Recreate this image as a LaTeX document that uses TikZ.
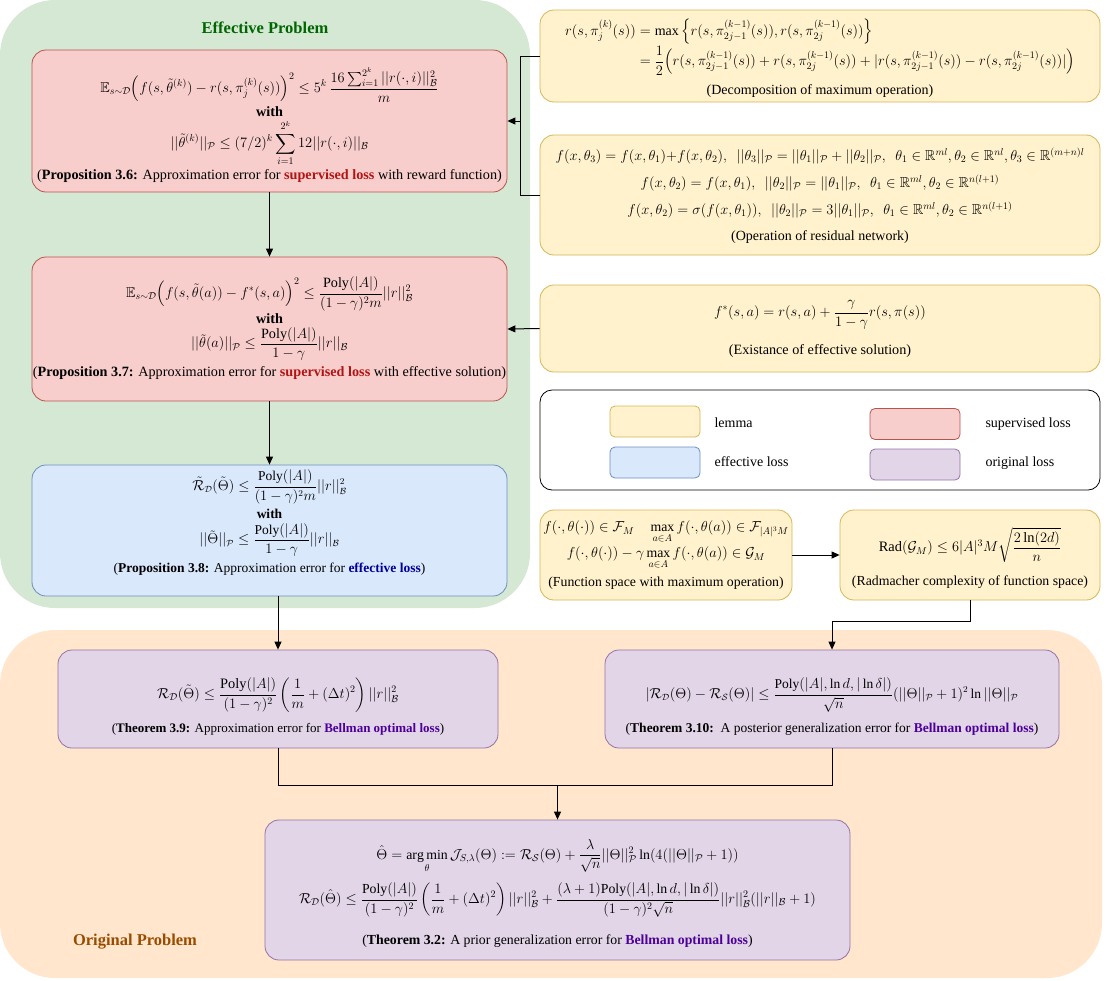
\documentclass[tikz,border=0pt]{standalone}
\usepackage{amsmath,amssymb}
\usepackage{fontspec}
\setmainfont{Liberation Serif}
\usetikzlibrary{arrows.meta}
\definecolor{greenbg}{HTML}{D5E8D4}
\definecolor{orangebg}{HTML}{FFE6CC}
\definecolor{lemfill}{HTML}{FFF2CC}
\definecolor{lemdraw}{HTML}{D6B656}
\definecolor{supfill}{HTML}{F8CECC}
\definecolor{supdraw}{HTML}{B85450}
\definecolor{efffill}{HTML}{DAE8FC}
\definecolor{effdraw}{HTML}{6C8EBF}
\definecolor{orifill}{HTML}{E1D5E7}
\definecolor{oridraw}{HTML}{9673A6}
\definecolor{titgreen}{RGB}{0,102,0}
\definecolor{titbrown}{RGB}{153,76,0}
\definecolor{supred}{RGB}{178,20,20}
\definecolor{effblue}{RGB}{0,0,153}
\definecolor{bellpur}{RGB}{76,0,153}
\newcommand{\Pn}{\mathcal{P}}
\newcommand{\Bn}{\mathcal{B}}
\newcommand{\Dn}{\mathcal{D}}
\newcommand{\Poly}{\mathrm{Poly}}
\newcommand{\suploss}{\textbf{\textcolor{supred}{supervised loss}}}
\newcommand{\bellloss}{\textbf{\textcolor{bellpur}{Bellman optimal loss}}}
\newcommand{\fs}[1]{\fontsize{#1}{#1}\selectfont}
\tikzset{
  basebox/.style={draw, line width=0.8pt, rounded corners=14pt, inner sep=0pt},
  lemmabox/.style={basebox, fill=lemfill, draw=lemdraw},
  supbox/.style={basebox, fill=supfill, draw=supdraw},
  effbox/.style={basebox, fill=efffill, draw=effdraw},
  oribox/.style={basebox, fill=orifill, draw=oridraw},
  ln/.style={inner sep=0pt, align=center, font=\fs{14.2}},
  captxt/.style={ln, font=\fs{14}},
  swatch/.style={draw, line width=0.8pt, rounded corners=5pt, minimum width=90pt, minimum height=31pt},
  legtext/.style={anchor=west, font=\fs{14}},
  conn/.style={line width=1pt, black},
  arr/.style={conn, -{Triangle[length=8pt,width=7pt]}},
  regtitle/.style={font=\fs{16.5}\bfseries}
}
\begin{document}
\begin{tikzpicture}[x=1pt,y=-1pt]
\useasboundingbox (0,0) rectangle (1118,980);
% regions
\fill[greenbg, rounded corners=55pt] (0,0) rectangle (530,608);
\fill[orangebg, rounded corners=55pt] (0,630) rectangle (1102,978);
\node[regtitle, text=titgreen] (efftitle) at (265,28) {Effective Problem};
\node[regtitle, text=titbrown] (orititle) at (135,942) {Original Problem};

% ---------- Proposition 3.6
\node[supbox, minimum width=475pt, minimum height=142pt] (p36) at (269.5,121) {};
\node[ln] (p36a) at (269.5,85) {$\displaystyle \mathbb{E}_{s\sim\Dn}\Big(f(s,\tilde\theta^{(k)}) - r(s,\pi_j^{(k)}(s))\Big)^2 \le 5^k\,\frac{16\sum_{i=1}^{2^k}||r(\cdot,i)||_{\Bn}^2}{m}$};
\node[ln] (p36b) at (269.5,112) {\textbf{with}};
\node[ln] (p36c) at (269.5,143) {$\displaystyle ||\tilde\theta^{(k)}||_{\Pn} \le (7/2)^k\sum_{i=1}^{2^k}12||r(\cdot,i)||_{\Bn}$};
\node[ln] (p36d) at (269.5,176) {(\textbf{Proposition 3.6:} Approximation error for \suploss{} with reward function)};

% ---------- Proposition 3.7
\node[supbox, minimum width=475pt, minimum height=144pt] (p37) at (269.5,329) {};
\node[ln] (p37a) at (269.5,294) {$\displaystyle \mathbb{E}_{s\sim\Dn}\Big(f(s,\tilde\theta(a)) - f^*(s,a)\Big)^2 \le \frac{\Poly(|A|)}{(1-\gamma)^2m}||r||_{\Bn}^2$};
\node[ln] (p37b) at (269.5,319) {\textbf{with}};
\node[ln] (p37c) at (269.5,344) {$\displaystyle ||\tilde\theta(a)||_{\Pn} \le \frac{\Poly(|A|)}{1-\gamma}||r||_{\Bn}$};
\node[ln] (p37d) at (269.5,373) {(\textbf{Proposition 3.7:} Approximation error for \suploss{} with effective solution)};

% ---------- Proposition 3.8
\node[effbox, minimum width=475pt, minimum height=131pt] (p38) at (269.5,530.5) {};
\node[ln, font=\fs{13.5}] (p38a) at (269.5,487) {$\displaystyle \tilde{\mathcal{R}}_{\Dn}(\tilde\Theta) \le \frac{\Poly(|A|)}{(1-\gamma)^2m}||r||_{\Bn}^2$};
\node[ln, font=\fs{13.5}] (p38b) at (269.5,514) {\textbf{with}};
\node[ln, font=\fs{13.5}] (p38c) at (269.5,540) {$\displaystyle ||\tilde\Theta||_{\Pn} \le \frac{\Poly(|A|)}{1-\gamma}||r||_{\Bn}$};
\node[ln, font=\fs{13.5}] (p38d) at (269.5,569) {(\textbf{Proposition 3.8:} Approximation error for \textbf{\textcolor{effblue}{effective loss}})};

% ---------- Decomposition
\node[lemmabox, minimum width=560pt, minimum height=92pt] (dec) at (820,56) {};
\node[ln, font=\fs{14}] (deca) at (820,47) {$\displaystyle \begin{aligned}
r(s,\pi_j^{(k)}(s)) &= \max\Big\{r(s,\pi_{2j-1}^{(k-1)}(s)), r(s,\pi_{2j}^{(k-1)}(s))\Big\}\\[-2pt]
&= \frac12\Big(r(s,\pi_{2j-1}^{(k-1)}(s)) + r(s,\pi_{2j}^{(k-1)}(s)) + |r(s,\pi_{2j-1}^{(k-1)}(s)) - r(s,\pi_{2j}^{(k-1)}(s))|\Big)
\end{aligned}$};
\node[captxt] (decb) at (820,91) {(Decomposition of maximum operation)};

% ---------- Residual network
\node[lemmabox, minimum width=560pt, minimum height=120pt] (res) at (820,195) {};
\node[ln, font=\fs{14.4}] (resa) at (820,156) {$f(x,\theta_3) = f(x,\theta_1){+}f(x,\theta_2),\ \ ||\theta_3||_{\Pn} = ||\theta_1||_{\Pn}+||\theta_2||_{\Pn},\ \ \theta_1\in\mathbb{R}^{ml},\theta_2\in\mathbb{R}^{nl},\theta_3\in\mathbb{R}^{(m+n)l}$};
\node[ln, font=\fs{14.4}] (resb) at (820,183) {$f(x,\theta_2) = f(x,\theta_1),\ \ ||\theta_2||_{\Pn} = ||\theta_1||_{\Pn},\ \ \theta_1\in\mathbb{R}^{ml},\theta_2\in\mathbb{R}^{n(l+1)}$};
\node[ln, font=\fs{14.4}] (resc) at (820,210) {$f(x,\theta_2) = \sigma(f(x,\theta_1)),\ \ ||\theta_2||_{\Pn} = 3||\theta_1||_{\Pn},\ \ \theta_1\in\mathbb{R}^{ml},\theta_2\in\mathbb{R}^{n(l+1)}$};
\node[captxt] (resd) at (820,237) {(Operation of residual network)};

% ---------- Effective solution
\node[lemmabox, minimum width=560pt, minimum height=87pt] (effsol) at (820,328.5) {};
\node[ln] (effa) at (820,315) {$\displaystyle f^*(s,a) = r(s,a) + \frac{\gamma}{1-\gamma}r(s,\pi(s))$};
\node[captxt, font=\fs{14.2}] (effb) at (820,351) {(Existance of effective solution)};

% ---------- Legend
\node[draw=black, line width=0.8pt, rounded corners=12pt, minimum width=560pt, minimum height=100pt] (legend) at (820,440) {};
\node[swatch, fill=lemfill, draw=lemdraw] (lsw) at (655,421.5) {};
\node[swatch, fill=efffill, draw=effdraw] (esw) at (655,462.5) {};
\node[swatch, fill=supfill, draw=supdraw] (ssw) at (915,424) {};
\node[swatch, fill=orifill, draw=oridraw] (osw) at (915,464.5) {};
\node[legtext] (ltx) at (711,423) {lemma};
\node[legtext] (etx) at (711,462) {effective loss};
\node[legtext] (stx) at (982,424) {supervised loss};
\node[legtext] (otx) at (982,463) {original loss};

% ---------- Function space
\node[lemmabox, minimum width=252pt, minimum height=90pt] (fsp) at (666,555) {};
\node[ln, font=\fs{13.8}] (fspa) at (666,532) {$\displaystyle f(\cdot,\theta(\cdot))\in\mathcal{F}_M \quad \max_{a\in A} f(\cdot,\theta(a))\in\mathcal{F}_{|A|^3M}$};
\node[ln, font=\fs{13.8}] (fspb) at (666,558) {$\displaystyle f(\cdot,\theta(\cdot)) - \gamma\max_{a\in A} f(\cdot,\theta(a))\in\mathcal{G}_M$};
\node[captxt, font=\fs{13.8}] (fspc) at (666,583) {(Function space with maximum operation)};

% ---------- Radmacher
\node[lemmabox, minimum width=260pt, minimum height=90pt] (rad) at (970,555) {};
\node[ln, font=\fs{14.4}] (rada) at (970,545) {$\displaystyle \mathrm{Rad}(\mathcal{G}_M) \le 6|A|^3M\sqrt{\frac{2\ln(2d)}{n}}$};
\node[captxt, font=\fs{13.8}] (radb) at (970,582) {(Radmacher complexity of function space)};

% ---------- Theorem 3.9
\node[oribox, minimum width=440pt, minimum height=98pt] (t39) at (278,699) {};
\node[ln, font=\fs{14.4}] (t39a) at (278,695) {$\displaystyle \mathcal{R}_{\Dn}(\tilde\Theta) \le \frac{\Poly(|A|)}{(1-\gamma)^2}\left(\frac1m + (\Delta t)^2\right)||r||_{\Bn}^2$};
\node[captxt, font=\fs{13}] (t39b) at (278,729) {(\textbf{Theorem 3.9:} Approximation error for \bellloss)};

% ---------- Theorem 3.10
\node[oribox, minimum width=454pt, minimum height=98pt] (t310) at (832,699) {};
\node[ln, font=\fs{13.5}] (t310a) at (832,695) {$\displaystyle |\mathcal{R}_{\Dn}(\Theta) - \mathcal{R}_{\mathcal{S}}(\Theta)| \le \frac{\Poly(|A|,\ln d,|\ln\delta|)}{\sqrt n}(||\Theta||_{\Pn}+1)^2\ln||\Theta||_{\Pn}$};
\node[captxt, font=\fs{13.5}] (t310b) at (832,729) {(\textbf{Theorem 3.10:}\ \ A posterior generalization error for \bellloss)};

% ---------- Theorem 3.2
\node[oribox, minimum width=585pt, minimum height=140pt] (t32) at (557.5,890) {};
\node[ln, font=\fs{13.8}] (t32a) at (557.5,856) {$\displaystyle \hat\Theta = \operatorname*{arg\,min}_{\theta}\mathcal{J}_{S,\lambda}(\Theta) := \mathcal{R}_{\mathcal{S}}(\Theta) + \frac{\lambda}{\sqrt n}||\Theta||_{\Pn}^2\ln(4(||\Theta||_{\Pn}+1))$};
\node[ln, font=\fs{13.8}] (t32b) at (557.5,900) {$\displaystyle \mathcal{R}_{\Dn}(\hat\Theta) \le \frac{\Poly(|A|)}{(1-\gamma)^2}\left(\frac1m + (\Delta t)^2\right)||r||_{\Bn}^2 + \frac{(\lambda+1)\Poly(|A|,\ln d,|\ln\delta|)}{(1-\gamma)^2\sqrt n}||r||_{\Bn}^2(||r||_{\Bn}+1)$};
\node[captxt, font=\fs{13.8}] (t32c) at (557.5,941) {(\textbf{Theorem 3.2:} A prior generalization error for \bellloss)};

% ---------- connectors
\coordinate (bx) at (520,0);
\draw[conn] (dec.west) -- (dec.west -| bx) -- (res.west -| bx) -- (res.west);
\draw[arr] (p36.east -| bx) -- (p36.east);
\draw[arr] (p36.south) -- (p37.north);
\draw[arr] (effsol.west) -- (p37.east);
\draw[arr] (p37.south) -- (p38.north);
\draw[arr] (p38.south -| t39.north) -- (t39.north);
\draw[arr] (fsp.east) -- (rad.west);
\coordinate (rb) at (0,621);
\draw[arr] (rad.south) -- (rad.south |- rb) -| (t310.north);
\coordinate (jn) at (557.5,785);
\draw[conn] (t39.south) |- (jn);
\draw[conn] (t310.south) |- (jn);
\draw[arr] (jn) -- (t32.north);
\end{tikzpicture}
\end{document}
